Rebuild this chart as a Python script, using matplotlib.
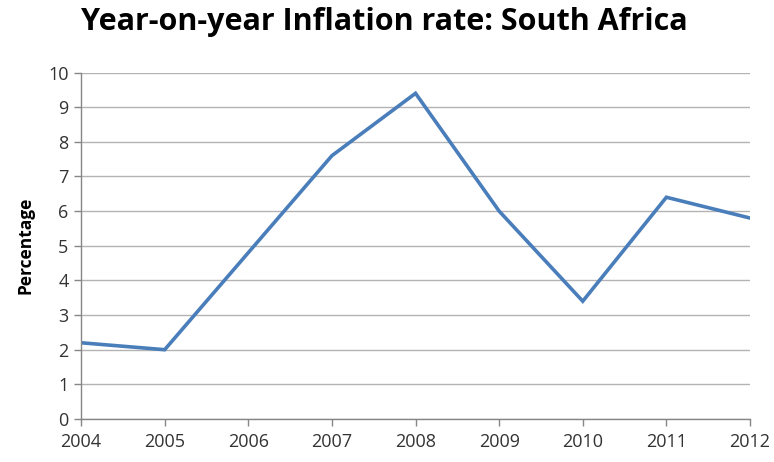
import matplotlib.pyplot as plt

years = [2004, 2005, 2006, 2007, 2008, 2009, 2010, 2011, 2012]
inflation = [2.2, 2.0, 4.8, 7.6, 9.4, 6.0, 3.4, 6.4, 5.8]
yticks = list(range(0, 11))

plt.rcParams['font.family'] = ['Open Sans', 'DejaVu Sans']

fig = plt.figure(figsize=(7.74, 4.62), dpi=100)
ax = fig.add_axes([0.1047, 0.0931, 0.8643, 0.7499])

ax.plot(years, inflation, color='#4a7ebb', linewidth=2.6, solid_joinstyle='miter')

ax.set_xlim(years[0], years[-1])
ax.set_ylim(0, 10)
ax.set_xticks(years)
ax.set_yticks(yticks)
ax.tick_params(axis='both', labelsize=13, colors='#868686', labelcolor='#333333', length=5, width=1)
ax.tick_params(axis='x', pad=5)
ax.tick_params(axis='y', pad=4)
ax.grid(axis='y', color='#b3b3b3', linewidth=1)
ax.set_axisbelow(True)

for side in ['top', 'right']:
    ax.spines[side].set_visible(False)
for side in ['left', 'bottom']:
    ax.spines[side].set_color('#868686')
    ax.spines[side].set_linewidth(1)

ax.set_ylabel('Percentage', fontsize=12.5, fontweight='bold', color='black', labelpad=10)
fig.text(0.497, 0.952, 'Year-on-year Inflation rate: South Africa', ha='center', va='center',
         fontsize=22, fontweight='bold', color='black')

fig.savefig('out.png', dpi=100)
